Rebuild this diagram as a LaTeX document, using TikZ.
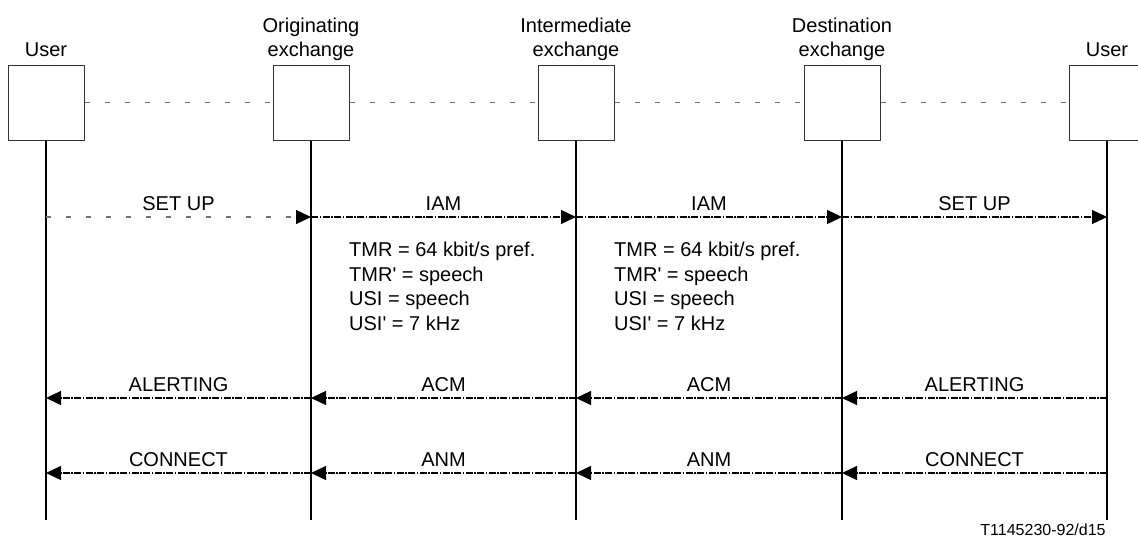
\documentclass[tikz,border=0pt]{standalone}
\usepackage{fontspec}
\setmainfont{Liberation Sans}
\usetikzlibrary{arrows.meta}
\begin{document}
\begin{tikzpicture}[x=1pt,y=-1pt,
  entity/.style={draw=black!80, line width=1pt, minimum width=76pt, minimum height=75pt, inner sep=0pt, fill=white},
  life/.style={line width=2pt},
  msg/.style={line width=1.3pt, dash pattern=on 7pt off 1.5pt on 1.5pt off 1.5pt, -{Triangle[length=15pt,width=14pt]}},
  gmsg/.style={draw=black!55, line width=1.3pt, dash pattern=on 5pt off 15pt, -{Triangle[length=15pt,width=14pt,color=black]}},
  link/.style={draw=black!55, line width=1.3pt, dash pattern=on 5pt off 15pt},
  lbl/.style={font=\fontsize{20}{23}\selectfont, inner sep=0pt},
  mlbl/.style={lbl, anchor=base, yshift=6.5pt},
  note/.style={lbl, anchor=base west},
  foot/.style={font=\fontsize{16}{19}\selectfont, inner sep=0pt, anchor=base}
]
\useasboundingbox (0,0) rectangle (1138,539);
\begin{scope}
\clip (0,0) rectangle (1138,539);
% entities
\node[entity] (u1) at (46,102.5) {};
\node[entity] (oe) at (311,102.5) {};
\node[entity] (ie) at (576,102.5) {};
\node[entity] (de) at (842,102.5) {};
\node[entity] (u2) at (1107,102.5) {};
% titles
\node[lbl, anchor=base] (tu1) at (46,56) {User};
\node[lbl, anchor=base] (toe1) at (311,32.5) {Originating};
\node[lbl, anchor=base] (toe2) at (311,56) {exchange};
\node[lbl, anchor=base] (tie1) at (576,32.5) {Intermediate};
\node[lbl, anchor=base] (tie2) at (576,56) {exchange};
\node[lbl, anchor=base] (tde1) at (842,32.5) {Destination};
\node[lbl, anchor=base] (tde2) at (842,56) {exchange};
\node[lbl, anchor=base] (tu2) at (1107,56) {User};
% links between entities
\draw[link] (u1.east) -- (oe.west);
\draw[link] (oe.east) -- (ie.west);
\draw[link] (ie.east) -- (de.west);
\draw[link] (de.east) -- (u2.west);
% lifelines
\coordinate (u1e) at (46,520);
\coordinate (oee) at (311,520);
\coordinate (iee) at (576,520);
\coordinate (dee) at (842,520);
\coordinate (u2e) at (1107,520);
\draw[life] (u1.south) -- (u1e);
\draw[life] (oe.south) -- (oee);
\draw[life] (ie.south) -- (iee);
\draw[life] (de.south) -- (dee);
\draw[life] (u2.south) -- (u2e);
% message points
\foreach \n/\x in {u1/46, oe/311, ie/576, de/842, u2/1107}{
  \coordinate (\n a) at (\x,217);
  \coordinate (\n b) at (\x,398);
  \coordinate (\n c) at (\x,473);
}
% SET UP / IAM
\draw[gmsg] (u1a) -- node[mlbl] (m1) {SET UP} (oea);
\draw[msg] (oea) -- node[mlbl] (m2) {IAM} (iea);
\draw[msg] (iea) -- node[mlbl] (m3) {IAM} (dea);
\draw[msg] (dea) -- node[mlbl] (m4) {SET UP} (u2a);
% ALERTING / ACM
\draw[msg] (u2b) -- node[mlbl] (m5) {ALERTING} (deb);
\draw[msg] (deb) -- node[mlbl] (m6) {ACM} (ieb);
\draw[msg] (ieb) -- node[mlbl] (m7) {ACM} (oeb);
\draw[msg] (oeb) -- node[mlbl] (m8) {ALERTING} (u1b);
% CONNECT / ANM
\draw[msg] (u2c) -- node[mlbl] (m9) {CONNECT} (dec);
\draw[msg] (dec) -- node[mlbl] (m10) {ANM} (iec);
\draw[msg] (iec) -- node[mlbl] (m11) {ANM} (oec);
\draw[msg] (oec) -- node[mlbl] (m12) {CONNECT} (u1c);
% notes
\foreach \k/\x in {A/349, B/614}{
  \node[note] (n\k1) at (\x,256.5) {TMR = 64 kbit/s pref.};
  \node[note] (n\k2) at (\x,281) {TMR\textquotesingle{} = speech};
  \node[note] (n\k3) at (\x,305.5) {USI = speech};
  \node[note] (n\k4) at (\x,330) {USI\textquotesingle{} = 7 kHz};
}
% footer
\node[foot] (ref) at (1043,535) {T1145230-92/d15};
\end{scope}
\end{tikzpicture}
\end{document}
